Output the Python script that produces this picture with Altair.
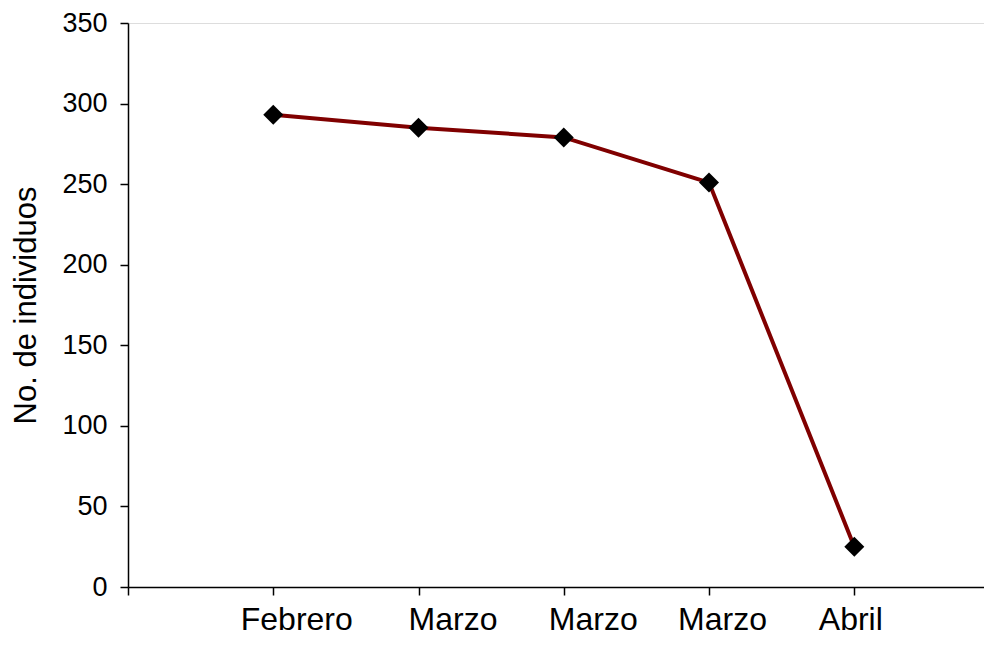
import altair as alt
import pandas as pd

# Data
categories = ["Febrero", "Marzo", "Marzo", "Marzo", "Abril"]
positions = [1, 2, 3, 4, 5]
values = [293, 285, 279, 251, 25]
x_tick_values = [0, 1, 2, 3, 4, 5]
y_tick_values = [0, 50, 100, 150, 200, 250, 300, 350]

df = pd.DataFrame({"pos": positions, "value": values, "mes": categories})

label_list = "[''," + ",".join("'" + c + "'" for c in categories) + "]"

# per-label horizontal nudges (styling, as in the reference)
label_offsets = {1: 23, 2: 34, 3: 29, 4: 13, 5: -4}
label_offset_cond = {
    "condition": [{"test": f"datum.value == {k}", "value": v} for k, v in label_offsets.items()],
    "value": 0,
}

FONT = "Liberation Sans"

x_enc = alt.X(
    "pos:Q",
    scale=alt.Scale(domain=[0, 5.893], nice=False, zero=False),
    axis=alt.Axis(
        values=x_tick_values,
        labelExpr=f"{label_list}[datum.value]",
        title=None,
        grid=False,
        domainColor="black",
        domainWidth=1.5,
        tickColor="black",
        tickWidth=1.5,
        tickSize=8,
        labelFont=FONT,
        labelFontSize=32,
        labelColor="black",
        labelPadding=9,
        labelOffset=label_offset_cond,
        labelFlush=False,
        labelOverlap=False,
    ),
)

y_enc = alt.Y(
    "value:Q",
    scale=alt.Scale(domain=[0, 350], nice=False),
    axis=alt.Axis(
        values=y_tick_values,
        title="No. de individuos",
        titleFont=FONT,
        titleFontSize=31,
        titleFontWeight="normal",
        titleColor="black",
        titlePadding=19,
        grid=False,
        domainColor="black",
        domainWidth=1.5,
        tickColor="black",
        tickWidth=1.5,
        tickSize=8,
        labelFont=FONT,
        labelFontSize=27,
        labelColor="black",
        labelPadding=13,
        labelFlush=False,
        labelOverlap=False,
    ),
)

base = alt.Chart(df).encode(x=x_enc, y=y_enc)

line = base.mark_line(color="#800000", strokeWidth=4)
points = base.mark_point(shape="diamond", filled=True, color="black", size=400, opacity=1)

chart = (
    alt.layer(line, points)
    .properties(
        width=856,
        height=564,
        autosize=alt.AutoSizeParams(type="none"),
        padding={"left": 120, "top": 15, "right": 0, "bottom": 50},
    )
    .configure_view(stroke=None)
    .configure(background="white")
)

chart.save("out.html", embed_options={"renderer": "svg", "actions": False})
